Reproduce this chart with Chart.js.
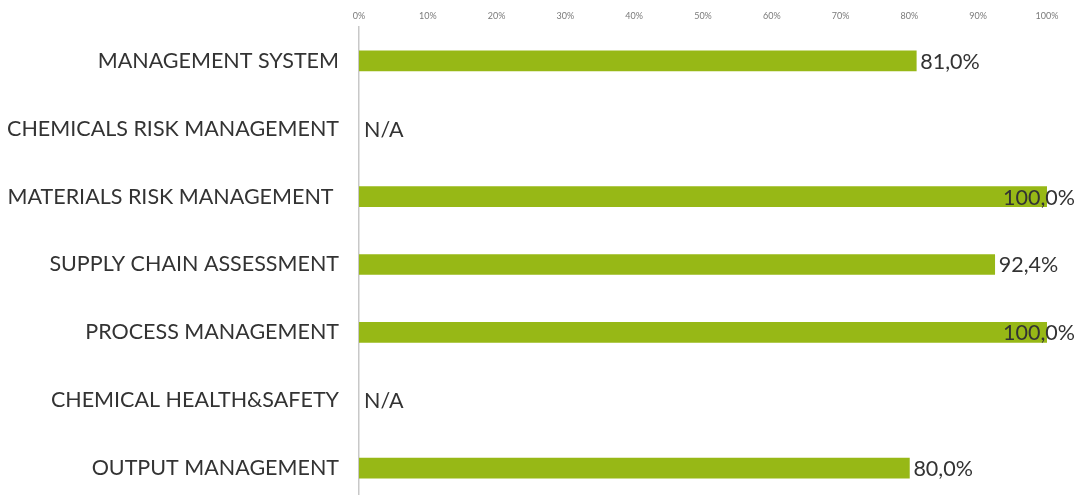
<!DOCTYPE html>
<html>
<head>
<meta charset="utf-8">
<script src="https://cdn.jsdelivr.net/npm/chart.js@4"></script>
<style>
  html, body { margin: 0; padding: 0; background: #fff; overflow: hidden; }
</style>
</head>
<body>
<canvas id="myChart" width="1080" height="502"></canvas>
<script>
const categories = [
    'MANAGEMENT SYSTEM',
    'CHEMICALS RISK MANAGEMENT',
    'MATERIALS RISK MANAGEMENT ',
    'SUPPLY CHAIN ASSESSMENT',
    'PROCESS MANAGEMENT',
    'CHEMICAL HEALTH&SAFETY',
    'OUTPUT MANAGEMENT'
];
const scores = [81.0, null, 100.0, 92.4, 100.0, null, 80.0];
const tickValues = [0, 10, 20, 30, 40, 50, 60, 70, 80, 90, 100];

const FONT = 'Lato';

// value labels after each bar, "N/A" where there is no value
const valueLabels = {
    id: 'valueLabels',
    afterDatasetsDraw(chart) {
        const ctx = chart.ctx;
        const meta = chart.getDatasetMeta(0);
        const xs = chart.scales.x;
        ctx.save();
        ctx.font = '21.5px ' + FONT;
        ctx.fillStyle = '#333333';
        ctx.textBaseline = 'middle';
        ctx.textAlign = 'left';
        meta.data.forEach((bar, i) => {
            const v = scores[i];
            let txt, x;
            if (v === null) {
                txt = 'N/A';
                x = xs.getPixelForValue(0) + 5;
            } else {
                txt = v.toFixed(1).replace('.', ',') + '%';
                x = bar.x + 4;
                const w = ctx.measureText(txt).width;
                if (x + w > chart.width - 5) x = chart.width - 5 - w;
            }
            ctx.fillText(txt, x, bar.y + 1);
        });
        ctx.restore();
    }
};

const ctx = document.getElementById('myChart').getContext('2d');
const myChart = new Chart(ctx, {
    type: 'bar',
    data: {
        labels: categories,
        datasets: [{
            data: scores,
            backgroundColor: '#97B816',
            borderWidth: 0,
            barThickness: 20
        }]
    },
    options: {
        indexAxis: 'y',
        responsive: false,
        animation: false,
        layout: { padding: { left: 0, top: 0, bottom: 0, right: 33 } },
        plugins: {
            legend: { display: false },
            tooltip: { enabled: false }
        },
        scales: {
            x: {
                position: 'top',
                min: 0,
                max: 100,
                afterBuildTicks: (scale) => {
                    scale.ticks = tickValues.map(v => ({ value: v }));
                },
                afterFit: (scale) => { scale.height = 27; },
                grid: { display: false, drawTicks: false },
                border: { display: false },
                ticks: {
                    padding: 6,
                    color: '#7a7a7a',
                    font: { family: FONT, size: 9 },
                    callback: (v) => v + '%'
                }
            },
            y: {
                afterFit: (scale) => {
                    scale.width = 359;
                    scale.paddingTop = 0;
                    scale.paddingBottom = 0;
                },
                grid: { color: 'rgba(0,0,0,0)', drawTicks: false },
                border: { display: true, color: '#c8c8c8', width: 1.5 },
                ticks: {
                    padding: 20,
                    color: '#333333',
                    font: { family: FONT, size: 21.5 }
                }
            }
        }
    },
    plugins: [valueLabels]
});
</script>
</body>
</html>
